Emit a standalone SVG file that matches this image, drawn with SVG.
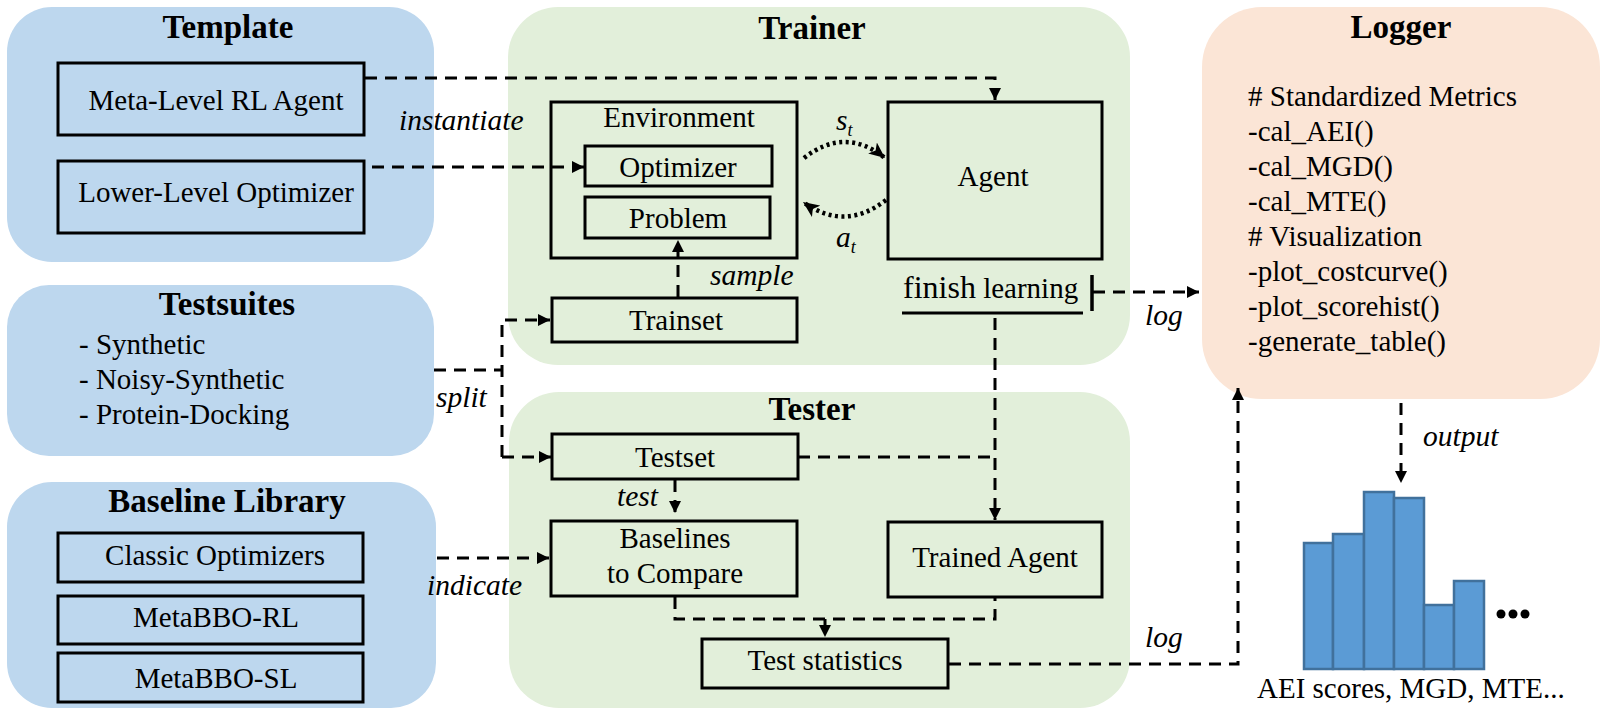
<svg xmlns="http://www.w3.org/2000/svg" width="1603" height="715" viewBox="0 0 1603 715" font-family="'Liberation Serif', 'DejaVu Serif', serif">
<style>
.pb{fill:#BDD7EE}
.pg{fill:#E2EFDA}
.po{fill:#FBE5D6}
.box{fill:none;stroke:#000;stroke-width:3}
text{font-family:'Liberation Serif','DejaVu Serif',serif;fill:#000}
.t{font-size:29px}
.c{text-anchor:middle}
.title{font-size:33px;font-weight:bold;text-anchor:middle}
.lbl{font-size:29.5px;font-style:italic}
.dash{fill:none;stroke:#000;stroke-width:3;stroke-dasharray:12 8}
.dot{fill:none;stroke:#000;stroke-width:4.5;stroke-dasharray:3 3.5}
.bar{fill:#5B9BD5;stroke:#41719C;stroke-width:2.5}
</style>
<defs>
<marker id="ah" markerUnits="userSpaceOnUse" markerWidth="13" markerHeight="12" refX="12" refY="6" orient="auto">
<path d="M0,0 L12,6 L0,12 z" fill="#000"/>
</marker>
<marker id="ahd" markerUnits="userSpaceOnUse" markerWidth="17" markerHeight="14" refX="16" refY="7" orient="auto">
<path d="M0,0 L16,7 L0,14 L4,7 z" fill="#000"/>
</marker>
</defs>

<g id="template">
<rect class="pb" x="7" y="7" width="427" height="255" rx="45"/>
<text class="title" x="228" y="38">Template</text>
<g id="meta-agent"><rect class="box" x="58" y="63" width="306" height="72"/><text class="t c" x="216" y="110">Meta-Level RL Agent</text></g>
<g id="lower-opt"><rect class="box" x="58" y="161" width="306" height="72"/><text class="t c" x="216" y="202">Lower-Level Optimizer</text></g>
</g>

<g id="testsuites">
<rect class="pb" x="7" y="285" width="427" height="171" rx="42"/>
<text class="title" x="227" y="315">Testsuites</text>
<text class="t" x="79" y="354">- Synthetic</text>
<text class="t" x="79" y="389">- Noisy-Synthetic</text>
<text class="t" x="79" y="424">- Protein-Docking</text>
</g>

<g id="baseline-library">
<rect class="pb" x="7" y="482" width="429" height="226" rx="45"/>
<text class="title" x="227" y="512">Baseline Library</text>
<g id="classic"><rect class="box" x="58" y="533" width="305" height="49"/><text class="t c" x="215" y="565">Classic Optimizers</text></g>
<g id="metabbo-rl"><rect class="box" x="58" y="596" width="305" height="48"/><text class="t c" x="216" y="627">MetaBBO-RL</text></g>
<g id="metabbo-sl"><rect class="box" x="58" y="653" width="305" height="49"/><text class="t c" x="216" y="688">MetaBBO-SL</text></g>
</g>

<g id="trainer">
<rect class="pg" x="508" y="7" width="622" height="358" rx="50"/>
<text class="title" x="812" y="39">Trainer</text>
<g id="environment"><rect class="box" x="551" y="102" width="246" height="156"/><text class="t c" x="679" y="127">Environment</text></g>
<g id="optimizer"><rect class="box" x="585" y="146" width="187" height="40"/><text class="t c" x="678" y="177">Optimizer</text></g>
<g id="problem"><rect class="box" x="585" y="197" width="185" height="41"/><text class="t c" x="678" y="228">Problem</text></g>
<g id="trainset"><rect class="box" x="552" y="298" width="245" height="44"/><text class="t c" x="676" y="330">Trainset</text></g>
<g id="agent"><rect class="box" x="888" y="102" width="214" height="157"/><text class="t c" x="993" y="186">Agent</text></g>
<g id="finish-learning"><text x="903" y="298"><tspan font-size="32">finish</tspan><tspan font-size="29"> learning</tspan></text>
<line x1="902" y1="313" x2="1083" y2="313" stroke="#000" stroke-width="3"/></g>
</g>

<g id="tester">
<rect class="pg" x="509" y="392" width="621" height="316" rx="50"/>
<text class="title" x="812" y="420">Tester</text>
<g id="testset"><rect class="box" x="552" y="434" width="246" height="45"/><text class="t c" x="675" y="467">Testset</text></g>
<g id="baselines"><rect class="box" x="551" y="521" width="246" height="75"/><text class="t c" x="675" y="548">Baselines</text><text class="t c" x="675" y="583">to Compare</text></g>
<g id="trained-agent"><rect class="box" x="888" y="522" width="214" height="75"/><text class="t c" x="995" y="567">Trained Agent</text></g>
<g id="test-statistics"><rect class="box" x="702" y="639" width="246" height="49"/><text class="t c" x="825" y="670">Test statistics</text></g>
</g>

<g id="logger">
<rect class="po" x="1202" y="7" width="398" height="392" rx="60"/>
<text class="title" x="1401" y="38">Logger</text>
<text class="t" x="1248" y="106"># Standardized Metrics</text>
<text class="t" x="1248" y="141">-cal_AEI()</text>
<text class="t" x="1248" y="176">-cal_MGD()</text>
<text class="t" x="1248" y="211">-cal_MTE()</text>
<text class="t" x="1248" y="246"># Visualization</text>
<text class="t" x="1248" y="281">-plot_costcurve()</text>
<text class="t" x="1248" y="316">-plot_scorehist()</text>
<text class="t" x="1248" y="351">-generate_table()</text>
</g>

<g id="histogram">
<rect class="bar" x="1304" y="543" width="29" height="126"/>
<rect class="bar" x="1333" y="534" width="31" height="135"/>
<rect class="bar" x="1364" y="492" width="30" height="177"/>
<rect class="bar" x="1394" y="498" width="30" height="171"/>
<rect class="bar" x="1424" y="605" width="30" height="64"/>
<rect class="bar" x="1454" y="581" width="30" height="88"/>
<circle cx="1501" cy="614" r="4.5"/>
<circle cx="1513" cy="614" r="4.5"/>
<circle cx="1525" cy="614" r="4.5"/>
<text class="t" x="1257" y="698">AEI scores, MGD, MTE...</text>
</g>

<g id="connectors">
<path class="dash" d="M365 78 H995 V100" marker-end="url(#ah)"/>
<path class="dash" d="M372 167 H584" marker-end="url(#ah)"/>
<path class="dash" d="M678 297 V240" marker-end="url(#ah)"/>
<path class="dash" d="M434 370 H502"/>
<path class="dash" d="M502 457 V320 H550" marker-end="url(#ah)"/>
<path class="dash" d="M502 457 H551" marker-end="url(#ah)"/>
<path class="dash" d="M675 480 V513" marker-end="url(#ah)"/>
<path class="dash" d="M437 558 H549" marker-end="url(#ah)"/>
<path class="dash" d="M798 457 H995"/>
<path class="dash" d="M995 318 V520" marker-end="url(#ah)"/>
<path class="dash" d="M675 597 V619 H995 V597"/>
<path class="dash" d="M825 619 V637" marker-end="url(#ah)"/>
<line x1="1092" y1="275" x2="1092" y2="311" stroke="#000" stroke-width="3.5"/>
<path class="dash" d="M1093 292 H1199" marker-end="url(#ah)"/>
<path class="dash" d="M949 664 H1238 V388" marker-end="url(#ah)"/>
<path class="dash" d="M1401 403 V483" marker-end="url(#ah)"/>
<path class="dot" d="M804 158 Q845 126 885 158" marker-end="url(#ahd)"/>
<path class="dot" d="M886 200 Q845 232 803 202" marker-end="url(#ahd)"/>
<text class="lbl" x="399" y="130">instantiate</text>
<text class="lbl" x="710" y="285">sample</text>
<text class="lbl" x="436" y="407">split</text>
<text class="lbl" x="617" y="506">test</text>
<text class="lbl" x="427" y="595">indicate</text>
<text class="lbl" x="1145" y="325">log</text>
<text class="lbl" x="1145" y="647">log</text>
<text class="lbl" x="1423" y="446">output</text>
<text class="lbl" x="836" y="130">s<tspan font-size="18" dy="6">t</tspan></text>
<text class="lbl" x="836" y="247">a<tspan font-size="18" dy="6">t</tspan></text>
</g>
</svg>
